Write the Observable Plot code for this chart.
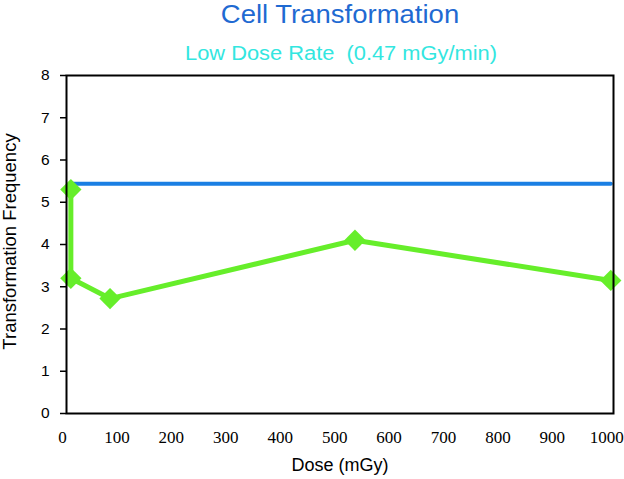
<!DOCTYPE html>
<html>
<head>
<meta charset="utf-8">
<script src="https://cdn.jsdelivr.net/npm/d3@7"></script>
<script src="https://cdn.jsdelivr.net/npm/@observablehq/plot@0.6"></script>
<style>
  html, body { margin: 0; padding: 0; background: #fff; }
  #wrap { position: relative; width: 624px; height: 479px; overflow: hidden; background: #fff; }
  .ttl { position: absolute; z-index: 2; white-space: nowrap; line-height: 1; font-family: "Liberation Sans", Arial, sans-serif; }
  #title { left: 340px; top: 14px; font-size: 25px; color: #1f6ad2; transform: translate(-50%, -50%) scaleX(1.1); }
  #subtitle { left: 341px; top: 54px; font-size: 19.5px; color: #33e6e0; transform: translate(-50%, -50%) scaleX(1.12); }
  #chart { position: absolute; left: 0; top: 60px; z-index: 1; }
</style>
</head>
<body>
<div id="wrap">
  <div id="title" class="ttl">Cell Transformation</div>
  <div id="subtitle" class="ttl">Low Dose Rate&nbsp; (0.47 mGy/min)</div>
  <div id="chart"></div>
</div>
<script>
const greenDoses = [8, 8, 80, 530, 1000];
const greenValues = [5.3, 3.2, 2.72, 4.1, 3.15];
const blueDoses = [8, 1000];
const blueValues = [5.44, 5.44];
const xTicks = [0, 100, 200, 300, 400, 500, 600, 700, 800, 900, 1000];
const yTicks = [0, 1, 2, 3, 4, 5, 6, 7, 8];
const xLabel = "Dose (mGy)";
const yLabel = "Transformation Frequency";

const green = greenDoses.map((d, i) => ({dose: d, value: greenValues[i]}));
const blue = blueDoses.map((d, i) => ({dose: d, value: blueValues[i]}));

const plot = Plot.plot({
  width: 624,
  height: 419,
  marginTop: 15,
  marginBottom: 66,
  marginLeft: 66,
  marginRight: 11,
  style: {background: "transparent", overflow: "visible", fontFamily: "Liberation Sans, Arial, sans-serif"},
  x: {domain: [0, 1005], ticks: xTicks},
  y: {domain: [0, 8], ticks: yTicks},
  marks: [
    Plot.axisX({ticks: xTicks, tickSize: 0, tickPadding: 17, dx: -4, fontSize: 17, tickFormat: d => String(d), label: null, color: "#000"}),
    Plot.axisY({ticks: yTicks, tickSize: 6, tickPadding: 11, fontSize: 15.5, tickFormat: d => String(d), label: null, color: "#000", strokeWidth: 1.5}),
    Plot.lineY(blue, {x: "dose", y: "value", stroke: "#1a7fe3", strokeWidth: 4}),
    Plot.line(green, {x: "dose", y: "value", stroke: "#66ee2a", strokeWidth: 5, strokeLinejoin: "miter"}),
    Plot.dot(green, {x: "dose", y: "value", symbol: "square", rotate: 45, r: 8.5, fill: "#66ee2a", stroke: "none"}),
    Plot.frame({stroke: "#000", strokeWidth: 2}),
    Plot.text([xLabel], {frameAnchor: "bottom", dx: 0, dy: 57, text: d => d, fontSize: 18, fill: "#000"}),
    Plot.text([yLabel], {frameAnchor: "left", textAnchor: "middle", dx: -56, dy: -3, rotate: -90, text: d => d, fontSize: 18.5, fill: "#000"})
  ]
});
document.getElementById("chart").appendChild(plot);
// give the x tick labels (the texts whose content is a tick value, below the frame) a serif face
const tickStrings = new Set(xTicks.map(String));
plot.querySelectorAll("g").forEach(g => {
  const a = (g.getAttribute("aria-label") || "").toLowerCase();
  if (a.includes("x-axis") && a.includes("label")) {
    g.setAttribute("font-family", "DejaVu Serif, Liberation Serif, serif");
    g.style.fontFamily = "'Liberation Serif', 'DejaVu Serif', serif";
    g.querySelectorAll("text").forEach(t => {
      if (tickStrings.has(t.textContent.trim())) {
        t.setAttribute("font-family", "Liberation Serif, DejaVu Serif, serif");
        t.style.fontFamily = "'Liberation Serif', 'DejaVu Serif', serif";
      }
    });
  }
});
</script>
</body>
</html>
